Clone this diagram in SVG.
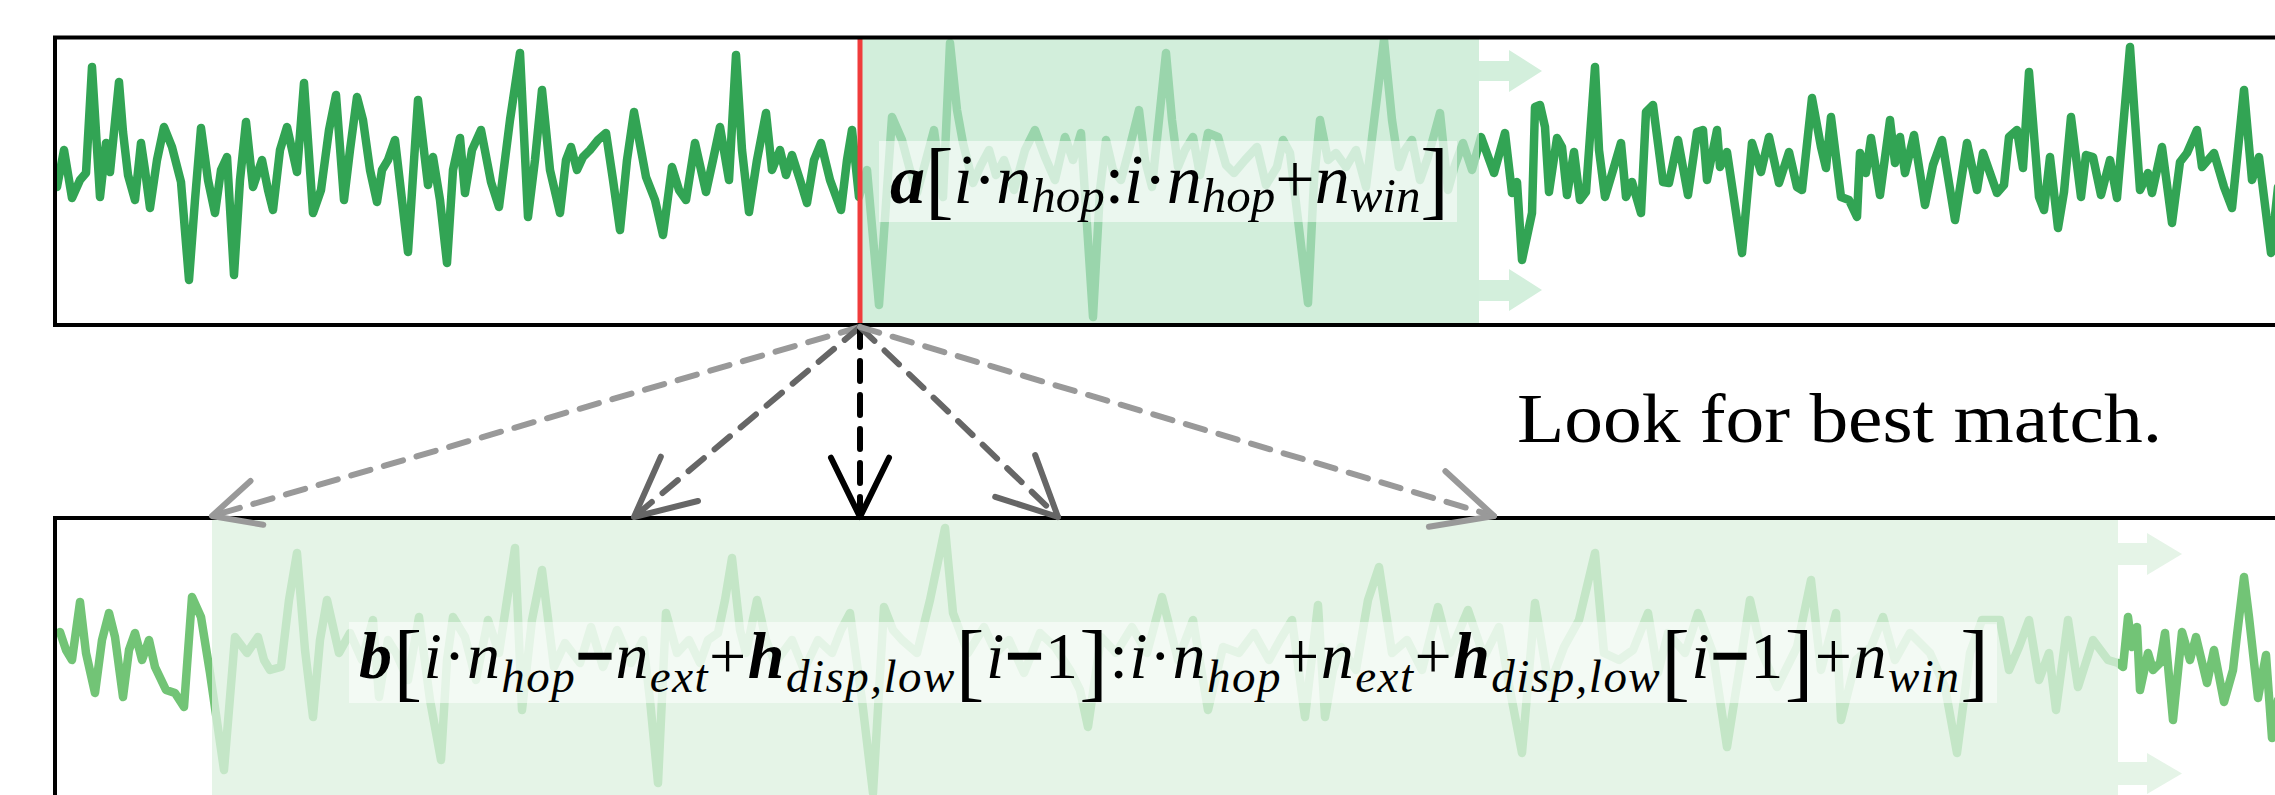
<svg xmlns="http://www.w3.org/2000/svg" width="2275" height="795" viewBox="0 0 2275 795">
<style>
.math{font-family:"Liberation Serif","Times New Roman",serif;font-style:italic;fill:#000}
.top{font-size:70px}
.bot{font-size:66px}
.bi{font-weight:bold}
.up{font-style:normal}
.bm{font-style:normal;font-weight:bold;stroke:#000;stroke-width:2.5}
.subt{font-size:49px}
.subb{font-size:47px}
.br{font-style:normal;font-size:86px}
.sigA{fill:none;stroke:#32a454;stroke-width:8.5;stroke-linejoin:round;stroke-linecap:round}
.sigB{fill:none;stroke:#72c476;stroke-width:8.5;stroke-linejoin:round;stroke-linecap:round}
.border{fill:none;stroke:#000;stroke-width:4}
.lbl{fill:#fff;fill-opacity:0.55}
.dash{fill:none;stroke-width:6;stroke-dasharray:20 14;stroke-linecap:round}
.head{fill:none;stroke-width:6;stroke-linecap:round;stroke-linejoin:round}
.light{stroke:#999}
.mid{stroke:#666}
.dark{stroke:#000}
</style>
<defs>
<clipPath id="clipTop"><rect x="55" y="37" width="2220" height="288"/></clipPath>
<clipPath id="clipBot"><rect x="55" y="518" width="2220" height="277"/></clipPath>
</defs>
<rect x="0" y="0" width="2275" height="795" fill="#fff"/>

<g id="top-box">
<polyline class="sigA" clip-path="url(#clipTop)" points="57,187 64,150 72,198 80,180 86,173 92,67 100,197 106,143 110,172 119,82 123,132 128,175 135,200 141,143 145,170 150,208 157,160 164,127 172,147 181,182 189,280 195,200 201,128 208,180 215,213 221,170 227,157 234,275 240,180 246,122 253,187 262,160 268,190 273,210 280,150 287,127 297,172 304,83 313,213 321,190 329,130 336,95 344,200 350,150 357,97 363,120 370,170 377,202 382,170 388,160 395,140 402,200 408,252 418,100 428,185 433,157 440,200 447,263 453,170 460,138 465,193 472,150 481,130 491,182 499,207 510,120 520,53 528,217 535,160 542,90 550,170 560,213 566,160 571,147 577,170 583,157 590,150 598,140 606,133 613,180 620,230 627,160 634,112 646,177 655,200 663,235 672,167 679,190 686,200 695,143 706,192 713,160 720,127 729,180 736,55 742,150 749,212 757,160 766,113 772,170 780,150 786,175 792,155 800,180 807,203 814,160 821,143 830,180 841,210 847,160 852,130 859,197 867,170 879,305 892,117 902,140 910,170 917,193 926,160 934,130 943,197 950,43 957,110 963,143 973,183 981,165 989,150 996,175 1004,160 1014,190 1025,150 1035,130 1045,157 1055,180 1065,137 1073,160 1081,133 1093,317 1100,190 1106,140 1113,170 1121,180 1129,150 1139,110 1145,160 1152,187 1166,53 1172,120 1178,167 1185,150 1193,137 1200,175 1208,133 1218,137 1226,165 1234,173 1245,160 1257,147 1266,185 1277,167 1283,140 1290,153 1308,303 1314,180 1320,120 1328,160 1336,153 1346,167 1356,150 1366,187 1384,40 1392,120 1399,167 1405,150 1412,140 1420,180 1428,157 1440,113 1448,190 1455,165 1463,143 1472,170 1481,137 1494,173 1505,133 1512,193 1517,182 1522,260 1532,213 1535,107 1540,105 1545,127 1549,192 1557,138 1562,147 1567,195 1574,152 1580,200 1586,192 1595,67 1599,150 1605,197 1614,167 1621,143 1626,197 1632,182 1641,213 1646,112 1653,105 1663,182 1669,183 1678,140 1688,195 1697,132 1703,130 1707,180 1717,130 1720,167 1727,152 1742,253 1752,143 1761,172 1769,137 1779,183 1789,152 1797,187 1802,190 1812,98 1821,147 1826,168 1831,117 1841,197 1849,200 1857,217 1860,153 1866,173 1871,138 1880,195 1890,120 1895,163 1900,137 1905,173 1914,135 1925,205 1933,165 1942,140 1955,220 1967,143 1977,190 1983,153 1997,193 2004,185 2009,137 2017,130 2023,168 2029,72 2039,197 2044,210 2050,157 2058,228 2064,192 2071,117 2081,197 2086,155 2093,157 2101,195 2110,160 2117,198 2130,47 2135,120 2140,190 2148,173 2152,193 2162,147 2172,223 2180,162 2187,153 2197,130 2202,167 2214,153 2224,187 2232,208 2244,90 2252,180 2259,157 2271,253 2278,187"/>
<rect x="860" y="37.5" width="619" height="287.5" fill="#c1e8ce" fill-opacity="0.73"/>
<polygon points="1479,61 1509,61 1509,50 1542,71 1509,92 1509,81 1479,81" fill="#d3efdc"/>
<polygon points="1479,280 1509,280 1509,269 1542,290 1509,311 1509,301 1479,301" fill="#d3efdc"/>
<rect class="lbl" x="879" y="141" width="578" height="81"/>
<text class="math top" x="890" y="203" textLength="559" lengthAdjust="spacing"><tspan class="bi">a</tspan><tspan class="br" dy="5">[</tspan><tspan dy="-5">i</tspan><tspan class="up">·</tspan><tspan>n</tspan><tspan class="subt" dy="9">hop</tspan><tspan class="up" dy="-9">:</tspan><tspan>i</tspan><tspan class="up">·</tspan><tspan>n</tspan><tspan class="subt" dy="9">hop</tspan><tspan class="up" dy="-9">+</tspan><tspan>n</tspan><tspan class="subt" dy="9">win</tspan><tspan class="br" dy="-4">]</tspan></text>
<line x1="860" y1="37" x2="860" y2="325" stroke="#f03c3c" stroke-width="5"/>
<rect class="border" x="55" y="37.5" width="2260" height="287.5"/>
</g>

<g id="bottom-box">
<polyline class="sigB" clip-path="url(#clipBot)" points="60,632 66,650 72,660 80,602 86,653 95,693 102,640 109,613 115,637 123,697 129,650 135,633 142,660 149,640 155,667 166,690 175,693 184,707 192,597 201,617 210,673 224,770 235,637 247,653 258,637 264,660 270,670 281,667 289,600 297,553 305,650 313,717 320,640 327,600 339,653 350,633 362,660 373,620 379,697 388,640 396,653 408,680 419,617 430,700 441,760 447,660 453,617 465,637 476,680 488,620 499,653 507,600 515,548 522,710 532,620 542,570 554,667 565,643 580,663 591,627 603,667 617,630 631,663 643,640 650,700 658,783 666,613 677,653 689,640 700,663 708,640 718,633 725,600 732,558 740,630 746,653 757,600 766,640 775,663 792,640 804,670 818,640 832,653 841,630 850,613 862,700 873,793 884,607 893,630 902,640 917,653 930,600 945,528 953,613 968,653 984,627 996,653 1009,640 1024,673 1040,633 1055,647 1070,670 1080,690 1088,727 1101,637 1116,653 1132,627 1147,653 1162,597 1178,660 1193,620 1208,710 1223,647 1239,653 1254,633 1269,660 1280,640 1292,620 1305,717 1318,605 1325,717 1333,670 1341,647 1356,670 1368,600 1379,567 1392,653 1407,640 1422,670 1438,607 1450,653 1468,610 1484,657 1499,627 1510,690 1522,753 1535,603 1549,687 1564,647 1579,620 1595,553 1604,653 1619,660 1633,650 1648,613 1658,673 1668,633 1685,653 1698,613 1713,653 1720,700 1727,747 1742,653 1750,600 1762,653 1777,687 1797,647 1811,580 1821,670 1836,613 1841,720 1856,660 1871,647 1883,617 1895,660 1910,633 1930,653 1945,687 1957,753 1970,653 1982,620 2000,620 2009,670 2019,647 2029,620 2039,680 2049,653 2056,710 2068,620 2078,687 2093,640 2108,660 2118,663 2123,667 2128,617 2132,647 2137,627 2140,690 2148,653 2153,670 2160,663 2165,633 2173,720 2182,632 2190,660 2196,637 2207,683 2214,650 2224,702 2233,670 2237,635 2244,577 2249,617 2258,698 2266,655 2272,738 2278,700"/>
<rect x="212" y="518" width="1906" height="277" fill="#ddf1e0" fill-opacity="0.77"/>
<polygon points="2118,543 2147,543 2147,533 2182,554 2147,575 2147,565 2118,565" fill="#e5f4e7"/>
<polygon points="2118,762 2147,762 2147,753 2182,773.5 2147,794 2147,785 2118,785" fill="#e5f4e7"/>
<rect class="lbl" x="349" y="622" width="1648" height="81"/>
<text class="math bot" x="359" y="678" textLength="1630" lengthAdjust="spacing"><tspan class="bi">b</tspan><tspan class="br" dy="12">[</tspan><tspan dy="-12">i</tspan><tspan class="up">·</tspan><tspan>n</tspan><tspan class="subb" dy="14">hop</tspan><tspan class="bm" dy="-14">−</tspan><tspan>n</tspan><tspan class="subb" dy="14">ext</tspan><tspan class="up" dy="-14">+</tspan><tspan class="bi">h</tspan><tspan class="subb" dy="14">disp,low</tspan><tspan class="br" dy="-2">[</tspan><tspan dy="-12">i</tspan><tspan class="bm">−</tspan><tspan class="up">1</tspan><tspan class="br" dy="12">]</tspan><tspan class="up" dy="-12">:</tspan><tspan>i</tspan><tspan class="up">·</tspan><tspan>n</tspan><tspan class="subb" dy="14">hop</tspan><tspan class="up" dy="-14">+</tspan><tspan>n</tspan><tspan class="subb" dy="14">ext</tspan><tspan class="up" dy="-14">+</tspan><tspan class="bi">h</tspan><tspan class="subb" dy="14">disp,low</tspan><tspan class="br" dy="-2">[</tspan><tspan dy="-12">i</tspan><tspan class="bm">−</tspan><tspan class="up">1</tspan><tspan class="br" dy="12">]</tspan><tspan class="up" dy="-12">+</tspan><tspan>n</tspan><tspan class="subb" dy="14">win</tspan><tspan class="br" dy="-2">]</tspan></text>
<rect class="border" x="55" y="518" width="2260" height="320"/>
</g>

<g id="caption">
<text x="1517" y="442" font-family="'Liberation Serif', 'Times New Roman', serif" font-size="70" textLength="645" lengthAdjust="spacingAndGlyphs">Look for best match.</text>
</g>

<g id="connectors">
<path class="dash light" d="M860,327 L212,516"/>
<path class="head light" d="M250.5,481 L212,516 L263.3,524.8"/>
<path class="dash mid" d="M860,327 L634,517"/>
<path class="head mid" d="M660.8,456.7 L634,517 L698,501"/>
<path class="dash dark" d="M860,327 L860,517"/>
<path class="head dark" d="M831,457.7 L860,517 L889,457.7"/>
<path class="dash mid" d="M860,327 L1058,517"/>
<path class="head mid" d="M1035.2,455.1 L1058,517 L995.2,496.8"/>
<path class="dash light" d="M860,327 L1494,516"/>
<path class="head light" d="M1445.4,471.3 L1494,516 L1428.9,526.8"/>
</g>
</svg>
